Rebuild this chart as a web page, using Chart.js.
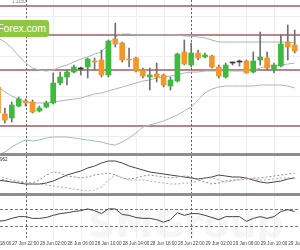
<!DOCTYPE html>
<html>
<head>
<meta charset="utf-8">
<script src="https://cdn.jsdelivr.net/npm/chart.js@4.4.0/dist/chart.umd.min.js"></script>
<style>
  html, body { margin: 0; padding: 0; background: #fff; }
  #wrap { position: relative; width: 300px; height: 250px; overflow: hidden; font-family: "Liberation Sans", Arial, sans-serif; }
  canvas { position: absolute; left: 0; }
  .sep { position: absolute; left: 0; width: 300px; height: 3px; background: #8e8e8e; }
  #mark { position: absolute; left: 88px; top: 202px; font: bold 38px "DejaVu Sans", sans-serif; color: rgba(150, 150, 150, 0.11); white-space: nowrap; }
  #brand { position: absolute; left: -40px; top: 20px; width: 86px; height: 17px; padding-right: 3px; background: #8fc743; color: #fff;
           font-size: 10.5px; letter-spacing: -0.1px; line-height: 17px; text-align: right; border-radius: 3px; white-space: nowrap; }
</style>
</head>
<body>
<div id="wrap">
  <div id="mark">SMGroup</div>
  <canvas id="mainChart" width="300" height="153" style="top:0"></canvas>
  <div class="sep" style="top:153px"></div>
  <canvas id="adxChart" width="300" height="37" style="top:156px"></canvas>
  <div class="sep" style="top:193px"></div>
  <canvas id="rsiChart" width="300" height="54" style="top:196px"></canvas>
  <div id="brand">RoboForex.com</div>
</div>
<script>
// hourly candles, index 0..43
var candleIndex = [];
for (var n = 0; n < 44; n++) candleIndex.push(n);

var opens  = [1.1069,1.1042,1.1038,1.1050,1.1055,1.1054,1.1045,1.1049,1.1053,1.1073,1.1079,1.1084,1.1087,1.1089,1.1095,1.1096,1.1081,1.1117,1.1113,1.1097,1.1098,1.1086,1.1079,1.1082,1.1081,1.1070,1.1075,1.1104,1.1091,1.1103,1.1099,1.1100,1.1089,1.1079,1.1093,1.1094,1.1095,1.1084,1.1096,1.1098,1.1086,1.1090,1.1114,1.1111];
var highs  = [1.1072,1.1048,1.1054,1.1059,1.1057,1.1056,1.1050,1.1055,1.1083,1.1084,1.1086,1.1091,1.1089,1.1098,1.1098,1.1106,1.1116,1.1133,1.1114,1.1108,1.1099,1.1088,1.1088,1.1093,1.1082,1.1079,1.1103,1.1116,1.1113,1.1106,1.1103,1.1101,1.1091,1.1093,1.1094,1.1096,1.1096,1.1104,1.1124,1.1104,1.1093,1.1121,1.1131,1.1126];
var lows   = [1.1040,1.1033,1.1034,1.1049,1.1050,1.1043,1.1044,1.1048,1.1052,1.1071,1.1071,1.1083,1.1081,1.1078,1.1086,1.1079,1.1079,1.1109,1.1094,1.1089,1.1084,1.1078,1.1066,1.1074,1.1069,1.1066,1.1074,1.1091,1.1089,1.1096,1.1098,1.1088,1.1078,1.1078,1.1091,1.1090,1.1083,1.1083,1.1091,1.1086,1.1083,1.1089,1.1096,1.1103];
var closes = [1.1043,1.1036,1.1051,1.1057,1.1053,1.1044,1.1048,1.1053,1.1073,1.1079,1.1084,1.1089,1.1087,1.1097,1.1094,1.1081,1.1115,1.1112,1.1096,1.1096,1.1085,1.1080,1.1081,1.1079,1.1071,1.1076,1.1102,1.1092,1.1103,1.1098,1.1101,1.1089,1.1080,1.1091,1.1093,1.1094,1.1083,1.1095,1.1099,1.1088,1.1091,1.1112,1.1109,1.1105];

var upperBand  = [1.1118,1.1114,1.1108,1.1100,1.1093,1.1088,1.1086,1.1085,1.1086,1.1089,1.1091,1.1094,1.1097,1.1099,1.1102,1.1104,1.1112,1.1119,1.1122,1.1122,1.1121,1.1121,1.1121,1.1121,1.1121,1.1121,1.1121,1.1120,1.1120,1.1119,1.1118,1.1116,1.1114,1.1114,1.1114,1.1114,1.1114,1.1114,1.1114,1.1114,1.1114,1.1114,1.1114,1.1113];
var middleBand = [1.1070,1.1064,1.1060,1.1057,1.1054,1.1053,1.1053,1.1053,1.1054,1.1055,1.1056,1.1057,1.1058,1.1060,1.1062,1.1063,1.1065,1.1067,1.1069,1.1071,1.1073,1.1075,1.1076,1.1078,1.1079,1.1080,1.1081,1.1083,1.1084,1.1084,1.1085,1.1085,1.1085,1.1085,1.1085,1.1085,1.1085,1.1086,1.1088,1.1090,1.1090,1.1091,1.1092,1.1093];
var lowerBand  = [1.1001,1.1004,1.1009,1.1013,1.1016,1.1015,1.1016,1.1018,1.1019,1.1019,1.1019,1.1018,1.1017,1.1016,1.1015,1.1014,1.1012,1.1011,1.1014,1.1018,1.1023,1.1029,1.1031,1.1033,1.1035,1.1038,1.1041,1.1045,1.1049,1.1056,1.1063,1.1067,1.1069,1.1070,1.1070,1.1070,1.1070,1.1070,1.1071,1.1071,1.1071,1.1071,1.1070,1.1068];

var adxLine = [13,12,11,10,9,9,9,10,12,15,18,20,22,25,27,30,32,32,30,27,25,23,21,20,19,18,17,16,15,14,15,16,18,17,16,16,15,13,11,10,11,12,14,15];
var diPlus  = [15,13,11,11,10,10,13,18,21,20,17,16,15,16,18,19,20,18,15,14,15,17,18,17,16,15,16,17,16,13,11,9,10,12,13,13,14,15,15,16,17,18,19,20];
var diMinus = [17,15,13,12,11,10,9,8,7,6,5,4,3,2,3,6,13,18,15,13,13,13,12,11,10,9,9,10,10,12,15,15,13,11,12,14,15,14,13,13,14,15,15,15];

var rsiLine = [41,43,48,52,52,48,48,50,55,59,61,64,66,70,66,59,70,70,57,55,50,48,48,45,39,45,61,55,59,59,55,50,45,52,52,52,41,48,52,48,52,64,68,64];

var levels = [1.1150, 1.1121, 1.1086, 1.1030];
var priceGrid = [1.1140, 1.1100, 1.1060, 1.1020];
var rsiLevels = [70, 30];
var daySeparators = [4, 28];
var tickIndex = [0, 4, 8, 12, 16, 20, 24, 28, 32, 36, 40, 44];
var tickLabels = ['27 Jun 18:00', '27 Jun 22:00', '28 Jun 02:00', '28 Jun 06:00', '28 Jun 10:00', '28 Jun 14:00',
                  '28 Jun 18:00', '28 Jun 22:00', '29 Jun 02:00', '29 Jun 06:00', '29 Jun 10:00', '29 Jun 14:00'];

var green = '#3dbb3d';
var orange = '#f5962a';
var xMin = 0.29, xMax = 43.77;

function points(arr) {
  return arr.map(function (v, i) { return { x: candleIndex[i], y: v }; });
}

var panelDecor = {
  id: 'panelDecor',
  beforeDatasetsDraw: function (chart, args, opts) {
    var ctx = chart.ctx, area = chart.chartArea;
    var xs = chart.scales.x, ys = chart.scales.y;
    function hline(v, offset) {
      var py = Math.round(ys.getPixelForValue(v)) + offset;
      ctx.beginPath(); ctx.moveTo(area.left, py); ctx.lineTo(area.right, py); ctx.stroke();
    }
    function vline(i) {
      var px = Math.round(xs.getPixelForValue(i)) + 0.5;
      ctx.beginPath(); ctx.moveTo(px, area.top); ctx.lineTo(px, area.bottom); ctx.stroke();
    }
    ctx.save();
    ctx.lineWidth = 1;
    ctx.strokeStyle = '#eeeeee';
    tickIndex.forEach(vline);
    (opts.grid || []).forEach(function (v) { hline(v, 0.5); });
    ctx.strokeStyle = '#b8868a';
    ctx.lineWidth = 2;
    (opts.levels || []).forEach(function (v) { hline(v, 0); });
    ctx.lineWidth = 1;
    ctx.setLineDash([3, 2]);
    ctx.strokeStyle = '#777777';
    (opts.dashed || []).forEach(function (v) { hline(v, 0.5); });
    ctx.setLineDash([2, 2]);
    ctx.strokeStyle = '#666666';
    daySeparators.forEach(vline);
    ctx.restore();
  },
  afterDraw: function (chart, args, opts) {
    var ctx = chart.ctx, xs = chart.scales.x, area = chart.chartArea;
    ctx.save();
    ctx.font = '4.6px "Liberation Sans", Arial, sans-serif';
    ctx.fillStyle = '#444';
    if (opts.labels) {
      ctx.textAlign = 'center';
      ctx.textBaseline = 'middle';
      tickIndex.forEach(function (i, k) {
        ctx.fillText(tickLabels[k], xs.getPixelForValue(i), area.bottom + 5);
      });
    }
    if (opts.caption) {
      ctx.fillStyle = opts.caption.color;
      ctx.textAlign = 'left';
      ctx.textBaseline = 'top';
      ctx.fillText(opts.caption.text, opts.caption.x, opts.caption.y);
    }
    ctx.restore();
  }
};

function panelOptions(yMin, yMax, decor, bottom) {
  return {
    responsive: false,
    animation: false,
    devicePixelRatio: 1,
    layout: { padding: { top: 0, left: 0, right: 0, bottom: bottom }, autoPadding: false },
    plugins: { legend: { display: false }, tooltip: { enabled: false }, panelDecor: decor },
    scales: {
      x: { type: 'linear', min: xMin, max: xMax, offset: false, display: false },
      y: { type: 'linear', min: yMin, max: yMax, display: false }
    }
  };
}

var bodyColors = candleIndex.map(function (i) {
  if (closes[i] > opens[i]) return green;
  if (closes[i] < opens[i]) return orange;
  return '#333333';
});

new Chart(document.getElementById('mainChart').getContext('2d'), {
  type: 'bar',
  data: {
    datasets: [
      {
        type: 'bar', order: 0, grouped: false, barThickness: 5, minBarLength: 1, borderWidth: 0,
        backgroundColor: bodyColors,
        data: candleIndex.map(function (i) { return { x: i, y: [opens[i], closes[i]] }; })
      },
      {
        type: 'bar', order: 1, grouped: false, barThickness: 1, borderWidth: 0,
        backgroundColor: '#707070',
        data: candleIndex.map(function (i) { return { x: i, y: [lows[i], highs[i]] }; })
      },
      { type: 'line', order: 2, data: points(upperBand), borderColor: '#a3bcaf', borderWidth: 1, pointRadius: 0 },
      { type: 'line', order: 2, data: points(middleBand), borderColor: '#a3bcaf', borderWidth: 1, pointRadius: 0 },
      { type: 'line', order: 2, data: points(lowerBand), borderColor: '#a3bcaf', borderWidth: 1, pointRadius: 0 }
    ]
  },
  options: panelOptions(1.1003, 1.1156, {
    levels: levels, grid: priceGrid,
    caption: { text: '1.1150', x: 12, y: -1, color: '#777' }
  }, 0),
  plugins: [panelDecor]
});

new Chart(document.getElementById('adxChart').getContext('2d'), {
  type: 'line',
  data: {
    datasets: [
      { data: points(diMinus), borderColor: '#c9a3a3', borderWidth: 1, borderDash: [2, 2], pointRadius: 0 },
      { data: points(diPlus), borderColor: '#8f8f8f', borderWidth: 1, borderDash: [2, 2], pointRadius: 0 },
      { data: points(adxLine), borderColor: '#444444', borderWidth: 1, pointRadius: 0 }
    ]
  },
  options: panelOptions(0, 37, { caption: { text: '962', x: 0, y: 1, color: '#333' } }, 0),
  plugins: [panelDecor]
});

new Chart(document.getElementById('rsiChart').getContext('2d'), {
  type: 'line',
  data: {
    datasets: [
      { data: points(rsiLine), borderColor: '#444444', borderWidth: 1, pointRadius: 0 }
    ]
  },
  options: panelOptions(0, 100, { dashed: rsiLevels, labels: true }, 11),
  plugins: [panelDecor]
});
</script>
</body>
</html>
